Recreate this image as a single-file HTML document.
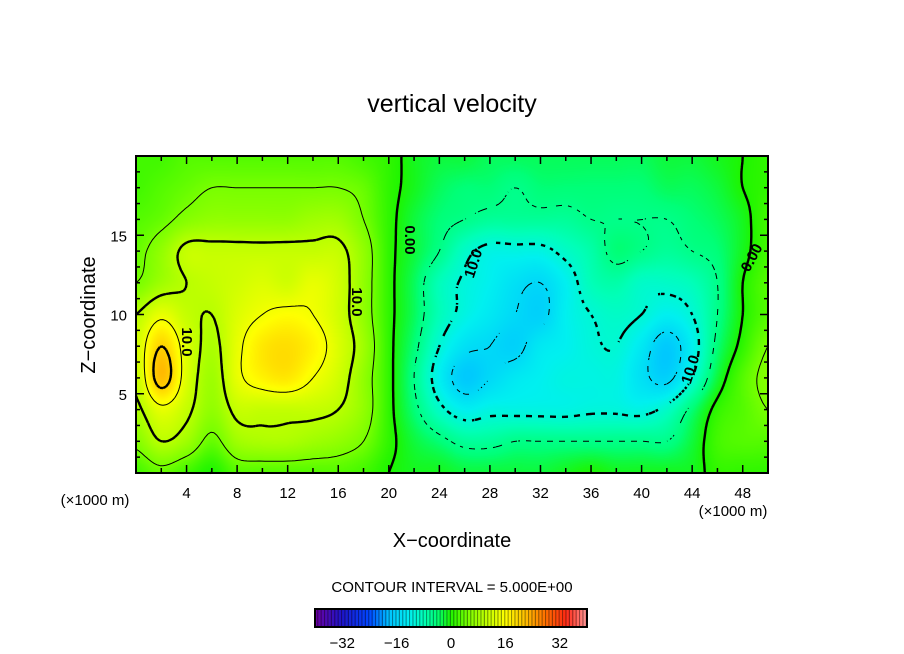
<!DOCTYPE html>
<html><head><meta charset="utf-8">
<style>
html,body{margin:0;padding:0;background:#fff;width:904px;height:654px;overflow:hidden;font-family:"Liberation Sans",sans-serif;}
#wrap{position:relative;width:904px;height:654px;}
canvas{position:absolute;left:0;top:0;}
svg{position:absolute;left:0;top:0;}
</style></head>
<body>
<div id="wrap">
<canvas id="heat" width="904" height="654"></canvas>
<svg id="svg" width="904" height="654">
<text x="452" y="112" text-anchor="middle" font-size="25">vertical velocity</text>
<text x="452" y="547" text-anchor="middle" font-size="20">X−coordinate</text>
<text transform="translate(95,315) rotate(-90)" text-anchor="middle" font-size="20">Z−coordinate</text>
<text x="95" y="505" text-anchor="middle" font-size="15">(×1000 m)</text>
<text x="733" y="516" text-anchor="middle" font-size="15">(×1000 m)</text>
<text x="452" y="592" text-anchor="middle" font-size="15">CONTOUR INTERVAL = 5.000E+00</text>
<g id="contours"></g>
<g id="labels" font-size="15" font-weight="bold">
<text transform="translate(405,240) rotate(90)" text-anchor="middle">0.00</text>
<text transform="translate(352,302) rotate(90)" text-anchor="middle">10.0</text>
<text transform="translate(182,342) rotate(90)" text-anchor="middle">10.0</text>
<text transform="translate(478,265) rotate(-72)" text-anchor="middle">10.0</text>
<text transform="translate(695,371) rotate(-72)" text-anchor="middle">10.0</text>
<text transform="translate(756,260) rotate(-62)" text-anchor="middle">0.00</text>
</g>
<g id="axes"></g>
<g id="cbar"></g>
</svg>
</div>
<script>
const xCategories = [0,2,4,6,8,10,12,14,16,18,20,22,24,26,28,30,32,34,36,38,40,42,44,46,48,50];
const zLevels = [0,2,4,6,8,10,12,14,16,18,20];
const wZ0  = [2,4,2,0,3,3,3,3,3,2,0,-1,-1,-2,-2,-2,-2,-1,0,-1,-1,-1,-1,1,1,1];
const wZ2  = [6,10,8,4,8,9,9,8,7,5,1,-2,-4,-6,-6,-5,-5,-5,-5,-5,-5,-5,-2,2,3,3];
const wZ4  = [9,14,11,7,11,11,11,11,10,7,1,-4,-9,-12,-11,-11,-11,-11,-10.5,-10.5,-11,-9,-4,1,3,5];
const wZ6  = [11,22,13,8,14,17,18,15,12,7,1,-5,-12,-17,-15,-13,-12,-11,-11,-11,-14,-16,-10,-2,3,6];
const wZ8  = [12,20,13,9,14,18,19,17,13,8,1,-4,-10,-14,-15,-16,-13,-12,-10.5,-10,-13,-17,-12,-4,1,5];
const wZ10 = [10,14,11,10,13,15,16,15,12,7,1,-3,-8,-11,-13,-15,-16,-12,-10,-9,-10,-12,-10,-5,0,3];
const wZ12 = [5,8,10,11,12,13,12,14,12,7,1,-3,-8,-10.5,-12,-14,-15,-12,-8,-7,-9,-9,-8,-5,0,3];
const wZ14 = [4,7,11,11,11,11,11,11,11,7,1,-2,-5,-9,-11,-11,-11,-9,-7,-4,-5,-6,-5,-4,-1,2];
const wZ16 = [3,4,6,7,7,7,7,8,8,5,1,-2,-4,-5,-6,-6,-6,-6,-5,-5,-5,-5,-4,-3,-1,2];
const wZ18 = [2,3,4,5,5,5,5,5,5,4,1,-1,-3,-4,-4,-5,-4,-4,-4,-4,-4,-3,-3,-2,0,1];
const wZ20 = [2,2,3,3,3,3,3,3,3,2,1,-1,-2,-2,-3,-3,-3,-3,-3,-3,-3,-2,-2,-1,0,1];
const contourLevels = [-20,-15,-10,-5,0,5,10,15,20];
const xTickLabels = [4,8,12,16,20,24,28,32,36,40,44,48];
const zTickLabels = [5,10,15];
const cbarTickLabels = [-32,-16,0,16,32];

const grid = [wZ0,wZ2,wZ4,wZ6,wZ8,wZ10,wZ12,wZ14,wZ16,wZ18,wZ20];
const PL=136, PR=768, PT=156, PB=473;
const xMax=50, zMax=20;
function X(x){return PL + x*(PR-PL)/xMax;}
function Z(z){return PB - z*(PB-PT)/zMax;}
const NS="http://www.w3.org/2000/svg";

function cr(p0,p1,p2,p3,t){return 0.5*((2*p1)+(-p0+p2)*t+(2*p0-5*p1+4*p2-p3)*t*t+(-p0+3*p1-3*p2+p3)*t*t*t);}
function g(i,j){i=Math.max(0,Math.min(grid.length-1,i));j=Math.max(0,Math.min(xCategories.length-1,j));return grid[i][j];}
function field(x,z){
  const fx=x/(xCategories[1]-xCategories[0]), fz=z/(zLevels[1]-zLevels[0]);
  const j=Math.min(Math.floor(fx),xCategories.length-2), i=Math.min(Math.floor(fz),zLevels.length-2);
  const tx=fx-j, tz=fz-i;
  const r=[];
  for(let k=-1;k<=2;k++) r.push(cr(g(i+k,j-1),g(i+k,j),g(i+k,j+1),g(i+k,j+2),tx));
  return cr(r[0],r[1],r[2],r[3],tz);
}
const cstops=[[-40,[110,0,160]],[-32,[30,20,200]],[-24,[0,70,255]],[-18,[0,195,255]],[-12,[0,240,240]],[-8,[0,255,185]],[-4,[0,255,120]],[0,[30,245,0]],[5,[120,255,0]],[10,[185,255,0]],[16,[255,255,0]],[22,[255,190,0]],[28,[255,110,0]],[34,[255,40,20]],[40,[255,150,150]]];
function color(v){
  if(v<=cstops[0][0]) return cstops[0][1];
  for(let k=1;k<cstops.length;k++){
    if(v<=cstops[k][0]){const a=cstops[k-1],b=cstops[k];const t=(v-a[0])/(b[0]-a[0]);
      return [0,1,2].map(c=>Math.round(a[1][c]+(b[1][c]-a[1][c])*t));}
  }
  return cstops[cstops.length-1][1];
}
const ctx=document.getElementById('heat').getContext('2d');
const W=PR-PL, H=PB-PT;
const img=ctx.createImageData(W,H);
for(let py=0;py<H;py++){
  const z=(PB-(PT+py+0.5))*zMax/(PB-PT);
  for(let px=0;px<W;px++){
    const x=(px+0.5)*xMax/(PR-PL);
    const c=color(field(x,z)); const o=(py*W+px)*4;
    img.data[o]=c[0];img.data[o+1]=c[1];img.data[o+2]=c[2];img.data[o+3]=255;
  }
}
ctx.putImageData(img,PL,PT);

const cg=document.getElementById('contours');
const step=3, nx=Math.ceil(W/step), nz=Math.ceil(H/step);
const S=[];
for(let a=0;a<=nz;a++){S.push([]);for(let b=0;b<=nx;b++){
  const px=Math.min(PL+b*step,PR), py=Math.min(PT+a*step,PB);
  S[a].push(field((px-PL)*xMax/W,(PB-py)*zMax/H));}}
contourLevels.forEach(L=>{
  let d='';
  for(let a=0;a<nz;a++)for(let b=0;b<nx;b++){
    if(L<0 && Math.floor((a+b)/2)%2===1) continue;
    const x0=PL+b*step,y0=PT+a*step,x1=Math.min(x0+step,PR),y1=Math.min(y0+step,PB);
    const v=[S[a][b],S[a][b+1],S[a+1][b+1],S[a+1][b]];
    const P=[[x0,y0],[x1,y0],[x1,y1],[x0,y1]];
    const pts=[];
    for(let e=0;e<4;e++){const p=v[e],q=v[(e+1)%4];
      if((p<L)!==(q<L)){const t=(L-p)/(q-p);const A=P[e],B=P[(e+1)%4];
        pts.push([A[0]+(B[0]-A[0])*t,A[1]+(B[1]-A[1])*t]);}}
    for(let k=0;k+1<pts.length;k+=2) d+='M'+pts[k][0].toFixed(1)+' '+pts[k][1].toFixed(1)+'L'+pts[k+1][0].toFixed(1)+' '+pts[k+1][1].toFixed(1);
  }
  const p=document.createElementNS(NS,'path');
  p.setAttribute('d',d);p.setAttribute('stroke','#000');p.setAttribute('fill','none');
  p.setAttribute('stroke-width',(L%10===0)?2.4:1);
  
  
  cg.appendChild(p);
});

const ax=document.getElementById('axes');
function line(x1,y1,x2,y2,w,name){const l=document.createElementNS(NS,'line');
  l.setAttribute('x1',x1);l.setAttribute('y1',y1);l.setAttribute('x2',x2);l.setAttribute('y2',y2);
  l.setAttribute('stroke','#000');l.setAttribute('stroke-width',w);
  
  
  ax.appendChild(l);}
function text(x,y,s,anchor,name,parent){const t=document.createElementNS(NS,'text');
  t.setAttribute('x',x);t.setAttribute('y',y);t.setAttribute('text-anchor',anchor);t.setAttribute('font-size','15');
  t.textContent=s;
  
  
  (parent||ax).appendChild(t);}
const fr=document.createElementNS(NS,'rect');
fr.setAttribute('x',PL);fr.setAttribute('y',PT);fr.setAttribute('width',W);fr.setAttribute('height',H);
fr.setAttribute('fill','none');fr.setAttribute('stroke','#000');fr.setAttribute('stroke-width',2);


ax.appendChild(fr);
for(let x=2;x<xMax;x+=2){const len=(x%4===0)?8:5;
  line(X(x),PB,X(x),PB-len,1.5,'x-tick');line(X(x),PT,X(x),PT+len,1.5,'x-tick-top');}
for(let z=1;z<zMax;z++){const len=(z%5===0)?8:4;
  line(PL,Z(z),PL+len,Z(z),1.5,'z-tick');line(PR,Z(z),PR-len,Z(z),1.5,'z-tick-right');}
xTickLabels.forEach(v=>text(X(v),498,String(v),'middle','x-tick-label'));
zTickLabels.forEach(v=>text(127,Z(v)+6,String(v),'end','z-tick-label'));

const cb=document.getElementById('cbar');
const CL=315, CR=587, CT=609, CB=627, cmin=-40, cmax=40;
function C(v){return CL+(v-cmin)*(CR-CL)/(cmax-cmin);}
for(let v=cmin;v<cmax;v++){
  const c=color(v+0.5);
  const r=document.createElementNS(NS,'rect');
  r.setAttribute('x',C(v));r.setAttribute('y',CT);r.setAttribute('width',C(v+1)-C(v)+0.3);r.setAttribute('height',CB-CT);
  r.setAttribute('fill','rgb('+c.join(',')+')');
  
  
  cb.appendChild(r);
  const d=document.createElementNS(NS,'rect');
  d.setAttribute('x',C(v+1)-1.2);d.setAttribute('y',CT);d.setAttribute('width',1.2);d.setAttribute('height',CB-CT);
  d.setAttribute('fill','rgb('+c.map(q=>Math.round(q*0.6)).join(',')+')');
  
  
  cb.appendChild(d);
}
const cbf=document.createElementNS(NS,'rect');
cbf.setAttribute('x',CL);cbf.setAttribute('y',CT);cbf.setAttribute('width',CR-CL);cbf.setAttribute('height',CB-CT);
cbf.setAttribute('fill','none');cbf.setAttribute('stroke','#000');cbf.setAttribute('stroke-width',2);


cb.appendChild(cbf);
cbarTickLabels.forEach(v=>text(C(v),648,(v<0?'−'+Math.abs(v):String(v)),'middle','colorbar-tick-label',cb));
</script>
</body></html>
